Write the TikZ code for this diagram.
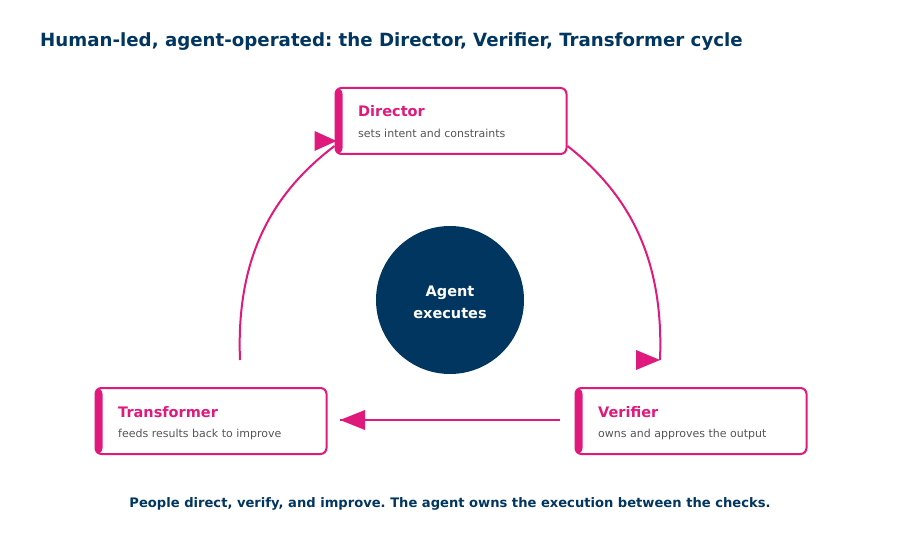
\documentclass[tikz,border=0pt]{standalone}
\usepackage{fontspec}
\setmainfont{DejaVu Sans}
\frenchspacing
\definecolor{navy}{HTML}{003660}
\definecolor{mag}{HTML}{E0197D}
\definecolor{subgray}{HTML}{555555}
\begin{document}
\begin{tikzpicture}[x=1pt,y=-1pt,
  stagebox/.style={draw=mag, line width=2pt, rounded corners=6pt,
    minimum width=231pt, minimum height=66pt, anchor=north west, inner sep=0pt, fill=white,
    path picture={\fill[mag] (path picture bounding box.north west) rectangle ([xshift=7pt]path picture bounding box.south west);}},
  stagetitle/.style={anchor=base west, text=mag, font=\bfseries\fontsize{14.5}{17}\selectfont, inner sep=0pt},
  stagesub/.style={anchor=base west, text=subgray, font=\fontsize{11}{13}\selectfont, inner sep=0pt},
  flow/.style={draw=mag, line width=2pt},
  head/.style={fill=mag}
]
\useasboundingbox (0,0) rectangle (900,540);
\fill[white] (0,0) rectangle (900,540);

\node[anchor=base west, text=navy, font=\bfseries\fontsize{18.2}{21}\selectfont, inner sep=0pt] (title) at (40,46.5)
  {Human-led, agent-operated: the Director, Verifier, Transformer cycle};

% boxes
\node[stagebox] (dir) at (334.5,87) {};
\node[stagetitle] (dirt) at (358,117) {Director};
\node[stagesub] (dirs) at (358,137.5) {sets intent and constraints};

\node[stagebox] (ver) at (574.5,387) {};
\node[stagetitle] (vert) at (598,417) {Verifier};
\node[stagesub] (vers) at (598,437.5) {owns and approves the output};

\node[stagebox] (tra) at (94.5,387) {};
\node[stagetitle] (trat) at (118,417) {Transformer};
\node[stagesub] (tras) at (118,437.5) {feeds results back to improve};

% agent
\node[circle, fill=navy, minimum size=148pt, inner sep=0pt] (agent) at (450,300) {};
\node[text=white, align=center, inner sep=0pt,
  font=\bfseries\fontsize{14.5}{22}\selectfont] (agentt) at (450,302) {Agent\\executes};

% connector endpoints
\coordinate (vin) at (660,360);
\coordinate (tout) at (240,360);
\coordinate (vout) at (560,420);
\coordinate (tin) at (340,420);

% Director -> Verifier
\draw[flow] ([yshift=-25pt]dir.east) .. controls (630,195) and (664,260) .. (vin);
\fill[head] ([xshift=-24pt,yshift=10pt]vin) -- (vin) -- ([xshift=-24pt,yshift=-10pt]vin) -- cycle;

% Verifier -> Transformer
\draw[flow] (vout) -- (tin);
\fill[head] (tin) -- ([xshift=25pt,yshift=10pt]tin) -- ([xshift=25pt,yshift=-10pt]tin) -- cycle;

% Transformer -> Director
\draw[flow] (tout) .. controls (236,260) and (270,195) .. ([yshift=-25pt]dir.west);
\fill[head] ([xshift=-20pt,yshift=-10pt]dir.west) -- ([xshift=2pt,yshift=-20pt]dir.west) -- ([xshift=-20pt,yshift=-30pt]dir.west) -- cycle;

\node[text=navy, font=\bfseries\fontsize{13.1}{15}\selectfont, inner sep=0pt] (foot) at (450,504)
  {People direct, verify, and improve. The agent owns the execution between the checks.};
\end{tikzpicture}
\end{document}
